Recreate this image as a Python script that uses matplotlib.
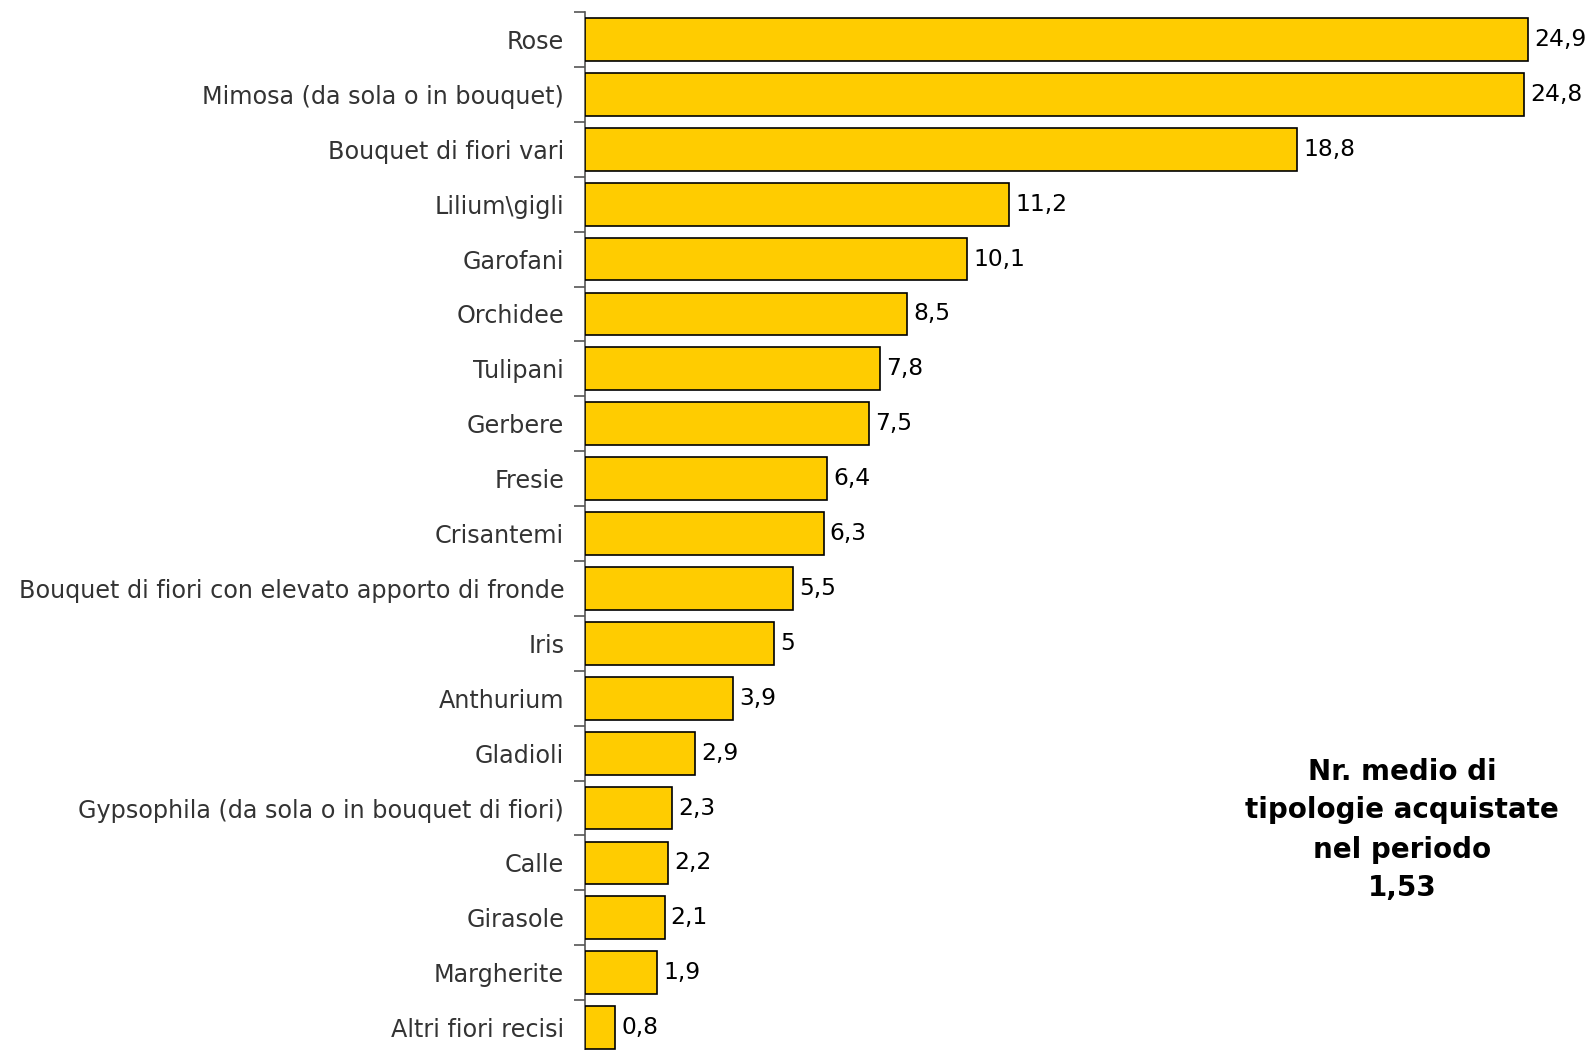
import matplotlib
matplotlib.use("Agg")
import matplotlib.pyplot as plt
import numpy as np

categories = ["Rose", "Mimosa (da sola o in bouquet)", "Bouquet di fiori vari", "Lilium\\gigli",
              "Garofani", "Orchidee", "Tulipani", "Gerbere", "Fresie", "Crisantemi",
              "Bouquet di fiori con elevato apporto di fronde", "Iris", "Anthurium", "Gladioli",
              "Gypsophila (da sola o in bouquet di fiori)", "Calle", "Girasole", "Margherite",
              "Altri fiori recisi"]
values = [24.9, 24.8, 18.8, 11.2, 10.1, 8.5, 7.8, 7.5, 6.4, 6.3, 5.5, 5, 3.9, 2.9, 2.3, 2.2, 2.1, 1.9, 0.8]
value_labels = ["24,9", "24,8", "18,8", "11,2", "10,1", "8,5", "7,8", "7,5", "6,4", "6,3", "5,5", "5",
                "3,9", "2,9", "2,3", "2,2", "2,1", "1,9", "0,8"]
note = "Nr. medio di\ntipologie acquistate\nnel periodo\n1,53"

plt.rcParams['font.family'] = ['DejaVu Sans']
W, H = 1587, 1050
fig = plt.figure(figsize=(W/100, H/100), dpi=100)
n = len(categories)
slot = 54.9
top_px = 12
ax_h = slot * n
ax = fig.add_axes([585/W, (H - top_px - ax_h)/H, (W-585)/W, ax_h/H])

y = np.arange(n)
ax.barh(y, values, height=0.78, color="#FFCC00", edgecolor="black", linewidth=1.2, zorder=3)
ax.set_ylim(n - 0.5, -0.5)
ax.set_xlim(0, (W - 585) / 37.87)

ax.set_yticks(y)
ax.set_yticklabels(categories, fontsize=17.2, color="#333333")
ax.tick_params(axis='y', which='major', length=0, pad=15)
ax.set_yticks(np.arange(n + 1) - 0.5, minor=True)
ax.tick_params(axis='y', which='minor', length=8, width=1.2, color="#555555", direction='out')
ax.set_xticks([])
for s in ["top", "right", "bottom"]:
    ax.spines[s].set_visible(False)
ax.spines["left"].set_color("#555555")
ax.spines["left"].set_linewidth(1.2)
ax.patch.set_alpha(0)

for yi, v, lab in zip(y, values, value_labels):
    ax.text(v + 0.16, yi, lab, va="center", ha="left", fontsize=16.8, color="black", clip_on=False)

fig.text(1402/W, 1 - 830/H, note, ha="center", va="center", fontsize=20, fontweight="bold",
         linespacing=1.5, color="black")

fig.savefig("out.png", dpi=100)
